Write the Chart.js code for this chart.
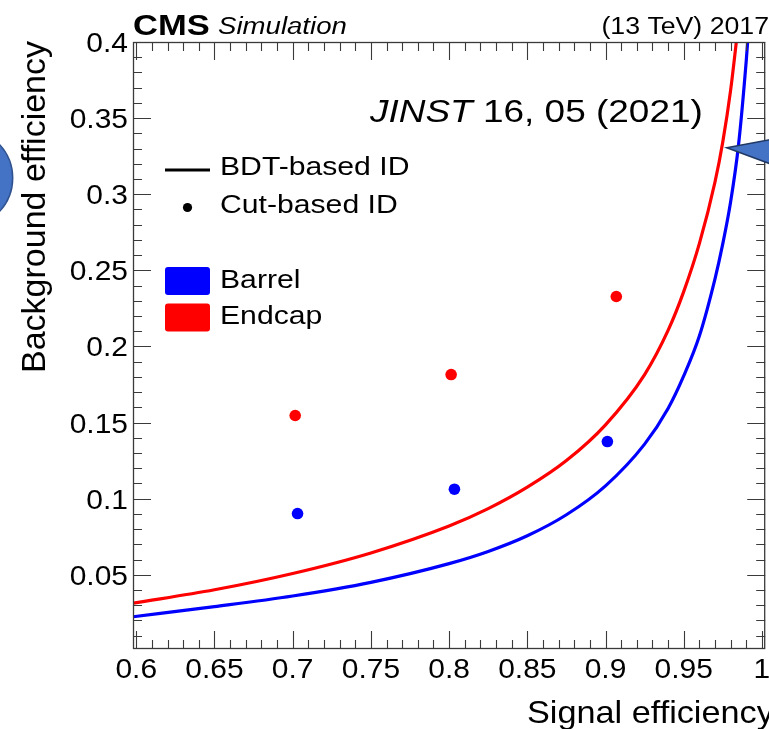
<!DOCTYPE html>
<html><head><meta charset="utf-8">
<script src="https://cdn.jsdelivr.net/npm/chart.js@4/dist/chart.umd.min.js"></script>
<style>
html,body{margin:0;padding:0;overflow:hidden;background:#fff;width:769px;height:729px}
#wrap{position:relative;width:769px;height:729px;overflow:hidden;background:#fff}
canvas{position:absolute;left:0;top:0}
</style></head>
<body><div id="wrap"><canvas id="c" width="771" height="729"></canvas></div>
<script>
// ---- data ----
const endcapBdtX = [0.598, 0.65, 0.70, 0.75, 0.80, 0.825, 0.85, 0.875, 0.90, 0.925, 0.94, 0.95, 0.96, 0.97, 0.975, 0.98, 0.985];
const endcapBdtY = [0.0313, 0.0401, 0.0508, 0.0643, 0.0820, 0.0934, 0.1075, 0.1250, 0.1485, 0.1815, 0.2105, 0.2360, 0.2675, 0.3080, 0.3345, 0.3684, 0.4123];
const barrelBdtX = [0.598, 0.65, 0.70, 0.75, 0.80, 0.825, 0.85, 0.875, 0.90, 0.925, 0.94, 0.95, 0.96, 0.97, 0.975, 0.98, 0.985, 0.99, 0.9925];
const barrelBdtY = [0.0224, 0.0290, 0.0360, 0.0450, 0.0573, 0.0653, 0.0756, 0.0894, 0.1084, 0.1358, 0.1592, 0.1806, 0.2068, 0.2444, 0.2675, 0.2950, 0.3320, 0.3880, 0.4228];
const endcapCutX = [0.7016, 0.8013, 0.9069];
const endcapCutY = [0.1546, 0.1815, 0.2328];
const barrelCutX = [0.7031, 0.8034, 0.9012];
const barrelCutY = [0.0902, 0.1062, 0.1375];
const xTickValues = [0.6, 0.65, 0.7, 0.75, 0.8, 0.85, 0.9, 0.95, 1.0];
const xTickLabels = ["0.6", "0.65", "0.7", "0.75", "0.8", "0.85", "0.9", "0.95", "1"];
const yTickValues = [0.05, 0.1, 0.15, 0.2, 0.25, 0.3, 0.35, 0.4];
const yTickLabels = ["0.05", "0.1", "0.15", "0.2", "0.25", "0.3", "0.35", "0.4"];
const seriesNames = ["Barrel", "Endcap"];
const typeNames = ["BDT-based ID", "Cut-based ID"];
const BLUE = '#0000ff', RED = '#ff0000';
const FONT = '"Liberation Sans", Arial, Helvetica, sans-serif';

function pts(xs, ys){ return xs.map((x,i)=>({x:x, y:ys[i]})); }

function drawText(ctx, s, x, y, font, sx, align){
  ctx.save();
  ctx.font = font; ctx.fillStyle = '#000'; ctx.textBaseline = 'alphabetic';
  ctx.textAlign = align || 'left';
  ctx.translate(x, y); ctx.scale(sx, 1);
  ctx.fillText(s, 0, 0);
  ctx.restore();
}

const decor = {
  id: 'decor',
  afterDatasetsDraw(chart){
    const ctx = chart.ctx, a = chart.chartArea;
    const xs = chart.scales.x, ys = chart.scales.y;
    ctx.save();
    // frame
    ctx.strokeStyle = '#3a3a3a'; ctx.lineWidth = 1.3;
    ctx.strokeRect(a.left + 0.5, a.top + 0.5, a.right - a.left - 1, a.bottom - a.top - 1);
    // ticks (inside, ROOT style)
    ctx.lineWidth = 1.1;
    ctx.beginPath();
    for (let i = 60; i <= 100; i++){
      const px = Math.round(xs.getPixelForValue(i/100)) + 0.5;
      const len = (i % 5 === 0) ? 18 : 9;
      ctx.moveTo(px, a.bottom); ctx.lineTo(px, a.bottom - len);
      ctx.moveTo(px, a.top); ctx.lineTo(px, a.top + len);
    }
    for (let i = 1; i <= 40; i++){
      const py = Math.round(ys.getPixelForValue(i/100)) + 0.5;
      const len = (i % 5 === 0) ? 18 : 9;
      ctx.moveTo(a.left, py); ctx.lineTo(a.left + len, py);
      ctx.moveTo(a.right, py); ctx.lineTo(a.right - len, py);
    }
    ctx.stroke();
    ctx.restore();

    // tick labels
    const tf = '28px ' + FONT;
    yTickValues.forEach((v, i) => {
      drawText(ctx, yTickLabels[i], 128, ys.getPixelForValue(v) + 10, tf, 1.07, 'right');
    });
    xTickValues.forEach((v, i) => {
      drawText(ctx, xTickLabels[i], xs.getPixelForValue(v), 678, tf, 1.07, 'center');
    });

    // axis titles
    drawText(ctx, 'Signal efficiency', 527, 723, '32px ' + FONT, 1.07, 'left');
    ctx.save();
    ctx.translate(45, 373); ctx.rotate(-Math.PI/2);
    drawText(ctx, 'Background efficiency', 0, 0, '34px ' + FONT, 1.0, 'left');
    ctx.restore();

    // header
    drawText(ctx, 'CMS', 133, 35, 'bold 29px ' + FONT, 1.19, 'left');
    drawText(ctx, 'Simulation', 218, 33.5, 'italic 23px ' + FONT, 1.2, 'left');
    drawText(ctx, '(13 TeV) 2017', 769, 33.5, '23px ' + FONT, 1.16, 'right');

    // JINST annotation
    ctx.save();
    const jsx = 1.155;
    ctx.font = 'italic 32px ' + FONT;
    const w1 = ctx.measureText('JINST').width * jsx;
    ctx.restore();
    drawText(ctx, 'JINST', 370, 121.5, 'italic 32px ' + FONT, jsx, 'left');
    drawText(ctx, ' 16, 05 (2021)', 370 + w1, 121.5, '32px ' + FONT, jsx, 'left');

    // legend
    ctx.save();
    ctx.strokeStyle = '#000'; ctx.lineWidth = 3;
    ctx.beginPath(); ctx.moveTo(165, 170); ctx.lineTo(210, 170); ctx.stroke();
    ctx.fillStyle = '#000';
    ctx.beginPath(); ctx.arc(187.5, 207.5, 4.6, 0, Math.PI*2); ctx.fill();
    ctx.fillStyle = BLUE;
    ctx.beginPath(); ctx.roundRect(165, 267, 45, 28, 3); ctx.fill();
    ctx.fillStyle = RED;
    ctx.beginPath(); ctx.roundRect(165, 303.5, 45, 28, 3); ctx.fill();
    ctx.restore();
    const lf = '26px ' + FONT;
    drawText(ctx, typeNames[0], 220, 175, lf, 1.16, 'left');
    drawText(ctx, typeNames[1], 220, 213, lf, 1.16, 'left');
    drawText(ctx, seriesNames[0], 220, 288, lf, 1.16, 'left');
    drawText(ctx, seriesNames[1], 220, 324, lf, 1.16, 'left');
  },
  afterDraw(chart){
    const ctx = chart.ctx;
    ctx.save();
    // slide overlays: circle at left, arrow at right
    ctx.fillStyle = '#4472c4'; ctx.strokeStyle = '#2f528f'; ctx.lineWidth = 1.5;
    ctx.beginPath(); ctx.arc(-36.5, 178, 49.2, 0, Math.PI*2); ctx.fill(); ctx.stroke();
    ctx.strokeStyle = '#1f3864';
    ctx.beginPath(); ctx.moveTo(726.7, 147.7); ctx.lineTo(772, 139.3); ctx.lineTo(772, 164.5); ctx.closePath();
    ctx.fill(); ctx.stroke();
    ctx.restore();
  }
};

new Chart(document.getElementById('c'), {
  type: 'scatter',
  data: {
    datasets: [
      { label: 'Endcap BDT', data: pts(endcapBdtX, endcapBdtY), showLine: true, borderColor: RED, borderWidth: 3.2,
        pointRadius: 0, cubicInterpolationMode: 'monotone', fill: false },
      { label: 'Barrel BDT', data: pts(barrelBdtX, barrelBdtY), showLine: true, borderColor: BLUE, borderWidth: 3.2,
        pointRadius: 0, cubicInterpolationMode: 'monotone', fill: false },
      { label: 'Endcap cut', data: pts(endcapCutX, endcapCutY), showLine: false, backgroundColor: RED,
        borderWidth: 0, pointRadius: 5.8 },
      { label: 'Barrel cut', data: pts(barrelCutX, barrelCutY), showLine: false, backgroundColor: BLUE,
        borderWidth: 0, pointRadius: 5.8 }
    ]
  },
  options: {
    responsive: false, animation: false, events: [],
    layout: { padding: { left: 133, top: 42, right: 0, bottom: 80 } },
    plugins: { legend: { display: false }, tooltip: { enabled: false } },
    scales: {
      x: { type: 'linear', display: false, min: 0.5979, max: 1.0021 },
      y: { type: 'linear', display: false, min: 0.0012, max: 0.4 }
    }
  },
  plugins: [decor]
});
</script>
</body></html>
